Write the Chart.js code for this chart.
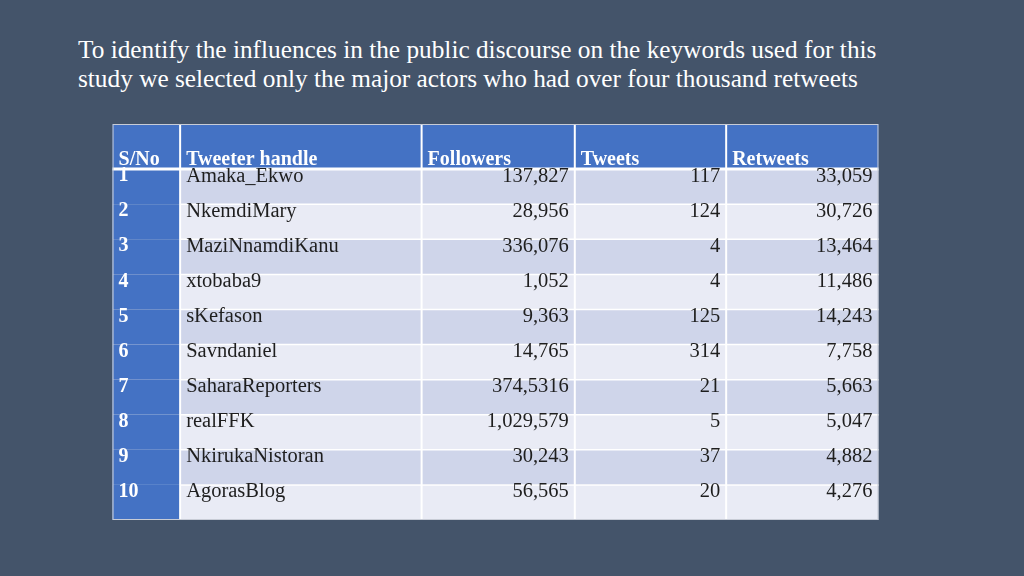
<!DOCTYPE html>
<html><head><meta charset="utf-8">
<script src="https://cdn.jsdelivr.net/npm/chart.js@4"></script>
<style>
html,body{margin:0;padding:0;background:#44546A;width:1024px;height:576px;overflow:hidden}
#title{position:absolute;left:78px;top:35px;font-family:"Liberation Serif",serif;font-size:25.3px;line-height:29px;color:#fff}
#c{position:absolute;left:70px;top:124px;width:851px;height:397px}
</style></head><body>
<div id="title">To identify the influences in the public discourse on the keywords used for this<br>study we selected only the major actors who had over four thousand retweets</div>
<canvas id="c" width="851" height="397"></canvas>
<script>
const headers = ["S/No","Tweeter handle","Followers","Tweets","Retweets"];
const sno = ["1","2","3","4","5","6","7","8","9","10"];
const handles = ["Amaka_Ekwo","NkemdiMary","MaziNnamdiKanu","xtobaba9","sKefason","Savndaniel","SaharaReporters","realFFK","NkirukaNistoran","AgorasBlog"];
const followers = ["137,827","28,956","336,076","1,052","9,363","14,765","374,5316","1,029,579","30,243","56,565"];
const tweets = ["117","124","4","4","125","314","21","5","37","20"];
const retweets = ["33,059","30,726","13,464","11,486","14,243","7,758","5,663","5,047","4,882","4,276"];

const colEdges = [0,75,343,513,681,850];
const headerH = 45, rowH = 35;
const FONT = '"Liberation Serif", serif';

const tablePlugin = {
  id:'table',
  afterDraw(chart){
    const ctx = chart.ctx, xs = chart.scales.x, ys = chart.scales.y;
    const X = v=>xs.getPixelForValue(v), Y = v=>ys.getPixelForValue(v);
    const cols = [sno, handles, followers, tweets, retweets];
    ctx.fillStyle='#4472C4';
    ctx.fillRect(X(0),Y(0),X(850)-X(0),Y(headerH)-Y(0));
    for(let r=0;r<10;r++){
      const t=headerH+r*rowH;
      ctx.fillStyle = r%2===0 ? '#CFD5EA' : '#E9EBF5';
      ctx.fillRect(X(0),Y(t),X(850)-X(0),Y(t+rowH)-Y(t));
      ctx.fillStyle='#4472C4';
      ctx.fillRect(X(0),Y(t),X(75)-X(0),Y(t+rowH)-Y(t));
    }
    ctx.strokeStyle='#ffffff';
    ctx.lineWidth=1.5;
    for(let r=1;r<10;r++){const y=Y(headerH+r*rowH);ctx.beginPath();ctx.moveTo(X(75),y);ctx.lineTo(X(850),y);ctx.stroke();}
    ctx.lineWidth=2;
    for(let c=1;c<5;c++){const x=X(colEdges[c]);ctx.beginPath();ctx.moveTo(x,Y(0));ctx.lineTo(x,Y(395));ctx.stroke();}
    ctx.lineWidth=3;
    ctx.beginPath();ctx.moveTo(X(0),Y(headerH));ctx.lineTo(X(850),Y(headerH));ctx.stroke();
    ctx.strokeStyle='#c8ccd6';ctx.lineWidth=1;
    ctx.strokeRect(X(0)+0.5,Y(0)+0.5,X(850)-X(0)-1,Y(395)-Y(0)-1);
    ctx.textBaseline='alphabetic';
    ctx.font='bold 20px '+FONT;
    ctx.fillStyle='#ffffff';
    headers.forEach((h,i)=>{ctx.textAlign='left';ctx.fillText(h,X(colEdges[i])+6,Y(41));});
    for(let r=0;r<10;r++){
      const yb=Y(headerH+r*rowH+7);
      ctx.textBaseline='middle';
      for(let c=0;c<5;c++){
        if(c===0){ctx.font='bold 20px '+FONT;ctx.fillStyle='#ffffff';ctx.textAlign='left';ctx.fillText(cols[c][r],X(colEdges[c])+6,yb);continue;}
        ctx.font='20.5px '+FONT;ctx.fillStyle='#1e1e1e';
        if(c===1){ctx.textAlign='left';ctx.fillText(cols[c][r],X(colEdges[c])+6,yb);}
        else{ctx.textAlign='right';ctx.fillText(cols[c][r],X(colEdges[c+1])-6,yb);}
      }
    }
  }
};

new Chart(document.getElementById('c'),{
  type:'bar',
  data:{labels:[],datasets:[{data:[]}]},
  options:{
    responsive:false,animation:false,
    layout:{padding:0},
    plugins:{legend:{display:false},tooltip:{enabled:false}},
    scales:{
      x:{type:'linear',min:0,max:850,display:false},
      y:{type:'linear',min:0,max:396,reverse:true,display:false}
    }
  },
  plugins:[tablePlugin]
});
</script>
</body></html>
